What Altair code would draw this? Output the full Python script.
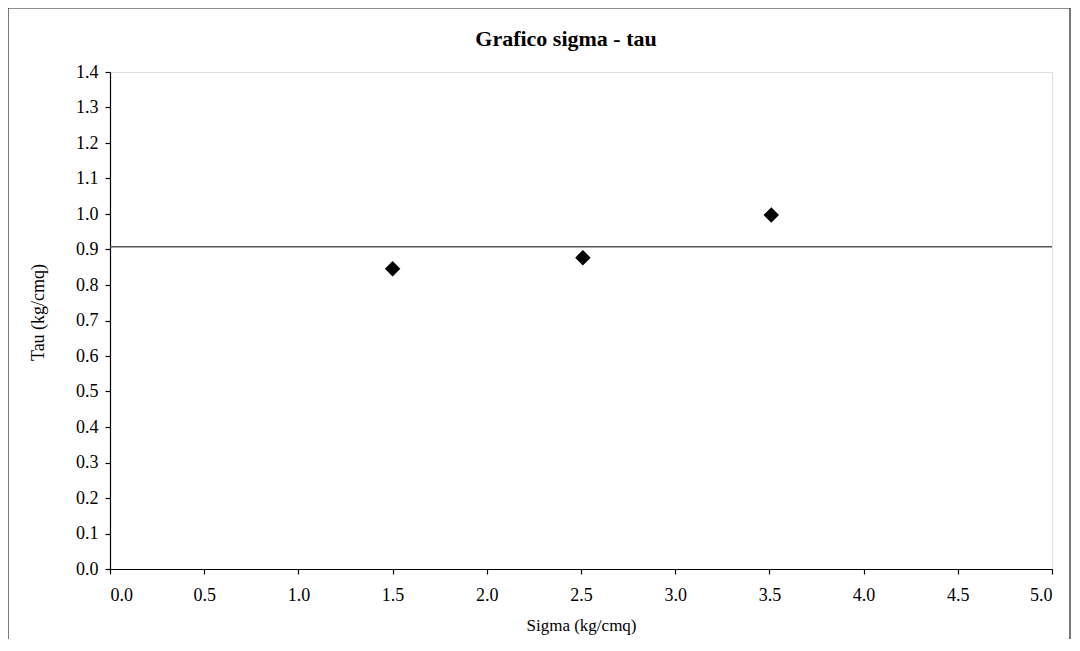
import altair as alt
import pandas as pd

sigma = [1.50, 2.51, 3.51]
tau = [0.846, 0.877, 0.997]
ref_tau = [0.908]
x_ticks = [0.0, 0.5, 1.0, 1.5, 2.0, 2.5, 3.0, 3.5, 4.0, 4.5, 5.0]
y_ticks = [round(i * 0.1, 1) for i in range(15)]
title_text = ["Grafico sigma - tau"]

df = pd.DataFrame({"sigma": sigma, "tau": tau})
df_ref = pd.DataFrame({"tau": ref_tau})
df_title = pd.DataFrame({"t": title_text})

FONT = "Liberation Serif"

x_scale = alt.Scale(domain=[0, 5], nice=False)
y_scale = alt.Scale(domain=[0, 1.4], nice=False)

x_axis = alt.Axis(values=x_ticks, format=".1f", title="Sigma (kg/cmq)",
                  labelPadding=12, titlePadding=13, titleFontSize=17)
y_axis = alt.Axis(values=y_ticks, format=".1f", title="Tau (kg/cmq)",
                  labelPadding=7, titlePadding=28, titleFontSize=18, titleY=240)

frame = alt.Chart(pd.DataFrame({"a": [0]})).mark_rect(
    fill=None, stroke="#222", strokeWidth=1.2, clip=False
).encode(x=alt.value(-102), x2=alt.value(960), y=alt.value(-64), y2=alt.value(700))

title = alt.Chart(df_title).mark_text(
    font=FONT, fontSize=22, fontWeight="bold", color="black",
    align="center", baseline="middle", clip=False
).encode(text="t:N", x=alt.value(456), y=alt.value(-33))

points = alt.Chart(df).mark_point(shape="diamond", filled=True, size=240,
                                  color="black", opacity=1).encode(
    x=alt.X("sigma:Q", scale=x_scale, axis=x_axis),
    y=alt.Y("tau:Q", scale=y_scale, axis=y_axis))

rule = alt.Chart(df_ref).mark_rule(color="#555", strokeWidth=1.5).encode(
    y=alt.Y("tau:Q", scale=y_scale, axis=y_axis))

chart = alt.layer(frame, title, rule, points).properties(
    width=942, height=497,
    autosize=alt.AutoSizeParams(type="none"),
    padding={"left": 102, "top": 64, "right": 20, "bottom": 70},
).configure_view(stroke="black", strokeWidth=1.2).configure(background="white").configure_axis(
    grid=False, tickSize=5, domainColor="black", tickColor="black", labelColor="black",
    titleColor="black", labelFont=FONT, titleFont=FONT, labelFontSize=18,
    titleFontWeight="normal", domainWidth=1.2, tickWidth=1.2)

chart.save("out.html", embed_options={"renderer": "svg", "actions": False})
